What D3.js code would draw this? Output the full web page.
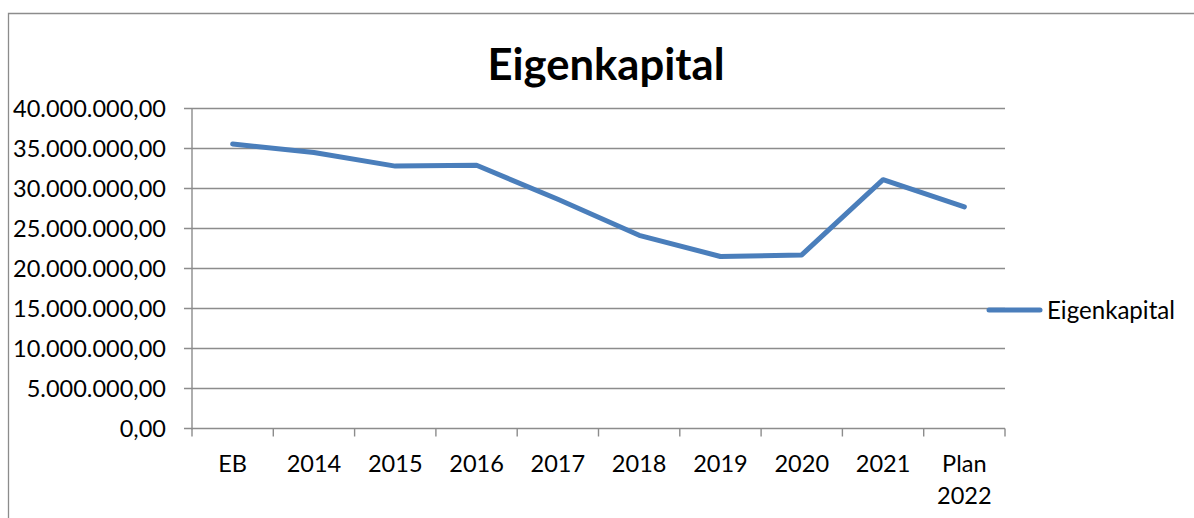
<!DOCTYPE html>
<html>
<head>
<meta charset="utf-8">
<script src="https://cdn.jsdelivr.net/npm/d3@7"></script>
<style>
  html, body { margin: 0; padding: 0; background: #fff; }
  svg { display: block; }
  text { font-family: Lato, "Open Sans", sans-serif; fill: #000; }
</style>
</head>
<body>
<svg id="chart" width="1194" height="518"></svg>
<script>
// ---- data ----
const categories = ["EB", "2014", "2015", "2016", "2017", "2018", "2019", "2020", "2021", "Plan 2022"];
const eigenkapital = [35550000, 34500000, 32800000, 32900000, 28650000, 24150000, 21500000, 21700000, 31100000, 27700000];
const seriesName = "Eigenkapital";
const chartTitle = "Eigenkapital";
const yTickValues = [0, 5000000, 10000000, 15000000, 20000000, 25000000, 30000000, 35000000, 40000000];

// ---- layout ----
const W = 1194, H = 518;
const plot = { left: 192, right: 1005, top: 108.5, bottom: 428.5 };
const lineColor = "#4a7ebb";
const gridColor = "#8c8c8c";

const svg = d3.select("#chart");
const locale = d3.formatLocale({ decimal: ",", thousands: ".", grouping: [3], currency: ["", ""] });
const fmt = locale.format(",.2f");

// fit font size to target width
function fit(sel, targetWidth) {
  const node = sel.node();
  const fs = parseFloat(sel.attr("font-size"));
  const w = node.getComputedTextLength();
  sel.attr("font-size", (fs * targetWidth / w).toFixed(2));
}

// outer frame
svg.append("path")
  .attr("d", `M8.5,${H + 5} V13.5 H${W + 5}`)
  .attr("fill", "none").attr("stroke", gridColor).attr("stroke-width", 1.3);

const x = d3.scaleBand().domain(categories).range([plot.left, plot.right]);
const y = d3.scaleLinear().domain([0, 40000000]).range([plot.bottom, plot.top]);

// gridlines
svg.append("g").selectAll("line").data(yTickValues).join("line")
  .attr("x1", plot.left - 8).attr("x2", plot.right)
  .attr("y1", d => y(d)).attr("y2", d => y(d))
  .attr("stroke", gridColor).attr("stroke-width", 1.4);

// y axis line
svg.append("line")
  .attr("x1", plot.left).attr("x2", plot.left)
  .attr("y1", plot.top).attr("y2", plot.bottom + 1)
  .attr("stroke", gridColor).attr("stroke-width", 1.4);

// x tick marks at band boundaries
const xb = categories.map(c => x(c)).concat([plot.right]);
svg.append("g").selectAll("line").data(xb).join("line")
  .attr("x1", d => d).attr("x2", d => d)
  .attr("y1", plot.bottom).attr("y2", plot.bottom + 8)
  .attr("stroke", gridColor).attr("stroke-width", 1.4);

// y labels
const yl = svg.append("g").selectAll("text").data(yTickValues).join("text")
  .attr("x", 166).attr("y", d => y(d))
  .attr("dy", "0.36em")
  .attr("text-anchor", "end")
  .attr("font-size", 23)
  .text(d => fmt(d));
const yTop = yl.filter(d => d === 40000000);
fit(yTop, 153);
yl.attr("font-size", yTop.attr("font-size"));

// x labels
const xlabSize = 23;
const xl = svg.append("g").selectAll("text").data(categories).join("text")
  .attr("x", d => x(d) + x.bandwidth() / 2)
  .attr("y", 472)
  .attr("text-anchor", "middle")
  .attr("font-size", xlabSize);
xl.each(function (d) {
  const parts = d.split(" ");
  const t = d3.select(this);
  parts.forEach((p, i) => {
    t.append("tspan").attr("x", x(d) + x.bandwidth() / 2).attr("dy", i === 0 ? 0 : 32).text(p);
  });
});
const xl2014 = xl.filter(d => d === "2014");
{
  const w = xl2014.node().getComputedTextLength();
  xl.attr("font-size", (xlabSize * 52 / w).toFixed(2));
}
// keep y-axis label size consistent
xl.attr("font-size", yTop.attr("font-size"));

// line
const line = d3.line()
  .x((d, i) => x(categories[i]) + x.bandwidth() / 2)
  .y(d => y(d));
svg.append("path")
  .datum(eigenkapital)
  .attr("d", line)
  .attr("fill", "none")
  .attr("stroke", lineColor)
  .attr("stroke-width", 5)
  .attr("stroke-linecap", "round")
  .attr("stroke-linejoin", "round");

// title
const title = svg.append("text")
  .attr("x", 606).attr("y", 79.5)
  .attr("text-anchor", "middle")
  .attr("font-size", 40)
  .attr("font-weight", "bold")
  .text(chartTitle);
fit(title, 237);

// legend
svg.append("line")
  .attr("x1", 989).attr("x2", 1040).attr("y1", 310).attr("y2", 310)
  .attr("stroke", lineColor).attr("stroke-width", 5).attr("stroke-linecap", "round");
const lt = svg.append("text")
  .attr("x", 1047).attr("y", 310).attr("dy", "0.36em")
  .attr("font-size", 20)
  .text(seriesName);
fit(lt, 128);
</script>
</body>
</html>
